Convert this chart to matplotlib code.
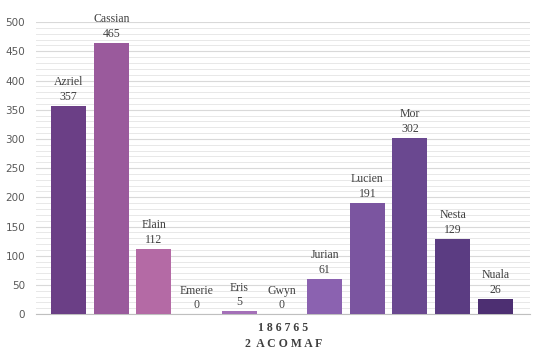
import matplotlib.pyplot as plt
from matplotlib.ticker import MultipleLocator

# data
names = ['Azriel', 'Cassian', 'Elain', 'Emerie', 'Eris', 'Gwyn',
         'Jurian', 'Lucien', 'Mor', 'Nesta', 'Nuala']
counts = [357, 465, 112, 0, 5, 0, 61, 191, 302, 129, 26]
colors = ['#6b3f86', '#9a5a9c', '#b46aa5', '#a86cb0', '#a470b8', '#9668b4',
          '#8b62b0', '#7b55a0', '#6a4890', '#5b3c82', '#4d2f72']
xlabel = '1 8 6 7 6 5\n2  A C O M A F'

fig = plt.figure(figsize=(5.4, 3.51), dpi=100)
ax = fig.add_axes([0.067, 0.105, 0.915, 0.832])

x = range(len(names))
ax.bar(x, counts, width=0.82, color=colors, zorder=3)

for xi, n, v in zip(x, names, counts):
    ax.text(xi, v + 5, f'{n}\n{v}', ha='center', va='bottom',
            family='Liberation Serif', fontsize=8.5, color='#404040',
            linespacing=1.3)

ax.set_xlim(-0.76, 10.82)
ax.set_ylim(0, 500)
ax.yaxis.set_major_locator(MultipleLocator(50))
ax.yaxis.set_minor_locator(MultipleLocator(10))
ax.grid(which='major', axis='y', color='#d9d9d9', linewidth=0.8, zorder=0)
ax.grid(which='minor', axis='y', color='#e8e8e8', linewidth=0.7, zorder=0)

ax.set_xticks([])
ax.tick_params(axis='y', which='both', length=0, labelsize=7.5,
               labelcolor='#595959', pad=8)
for s in ['top', 'right', 'left']:
    ax.spines[s].set_visible(False)
ax.spines['bottom'].set_color('#bfbfbf')

ax.set_xlabel(xlabel, family='Liberation Serif', fontweight='bold',
              fontsize=8.5, color='#404040', labelpad=6, linespacing=1.4)

fig.savefig('out.png', dpi=100)
